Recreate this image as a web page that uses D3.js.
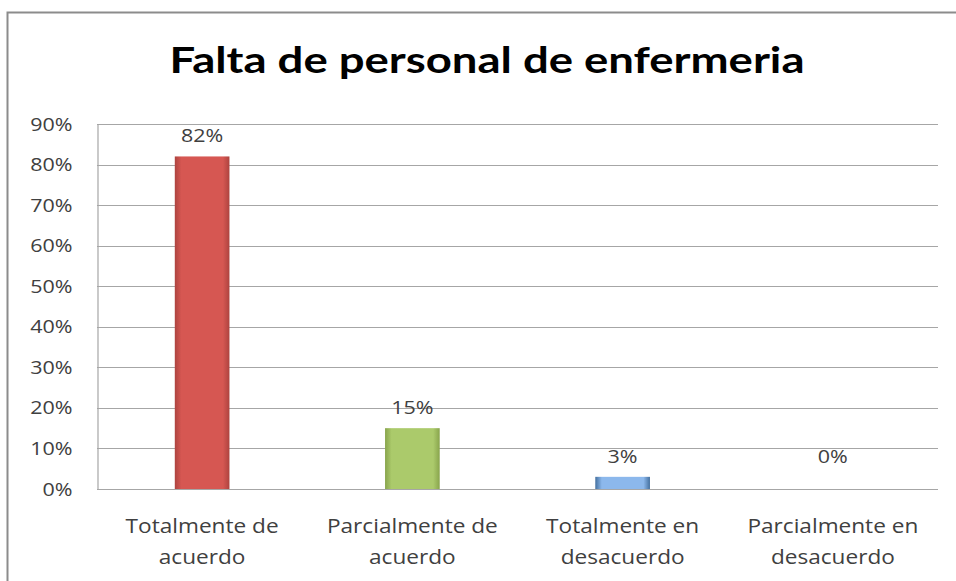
<!DOCTYPE html>
<html>
<head>
<meta charset="utf-8">
<script src="https://cdn.jsdelivr.net/npm/d3@7"></script>
<style>
  body { margin: 0; background: #fff; }
  svg { display: block; }
</style>
</head>
<body>
<script>
// datos
var categorias = [["Totalmente de", "acuerdo"], ["Parcialmente de", "acuerdo"], ["Totalmente en", "desacuerdo"], ["Parcialmente en", "desacuerdo"]];
var valores = [0.82, 0.15, 0.03, 0.00];
var ticks = [0, 0.1, 0.2, 0.3, 0.4, 0.5, 0.6, 0.7, 0.8, 0.9];
var titulo = "Falta de personal de enfermeria";

// colores de cada barra: [borde, centro]
var colores = [["#ad433f", "#d65752"], ["#88a44c", "#abca6b"], ["#44709f", "#8cb8ec"]];

var width = 956, height = 581;
var margin = {top: 124, right: 18, bottom: 92, left: 97};
var stretch = 1.13; // el texto del original sale algo ensanchado

var svg = d3.select("body").append("svg")
  .attr("width", width)
  .attr("height", height)
  .attr("font-family", "'Open Sans', sans-serif");

////// gradientes //////
var defs = svg.append("defs");
colores.forEach(function(c, i) {
  var g = defs.append("linearGradient").attr("id", "grad" + i)
    .attr("x1", "0%").attr("x2", "100%").attr("y1", "0%").attr("y2", "0%");
  g.append("stop").attr("offset", "0%").attr("stop-color", c[0]);
  g.append("stop").attr("offset", "12%").attr("stop-color", c[1]);
  g.append("stop").attr("offset", "88%").attr("stop-color", c[1]);
  g.append("stop").attr("offset", "100%").attr("stop-color", c[0]);
});

// marco del grafico
svg.append("rect")
  .attr("x", 7.5).attr("y", 12.5)
  .attr("width", width + 20).attr("height", height + 20)
  .attr("fill", "#fff")
  .attr("stroke", "#8c8c8c")
  .attr("stroke-width", 2);

////// escalas //////
var x = d3.scaleBand()
  .domain(d3.range(categorias.length))
  .range([margin.left, width - margin.right])
  .padding(0);

var y = d3.scaleLinear()
  .domain([0, 0.9])
  .range([height - margin.bottom, margin.top]);

var formatPct = d3.format(".0%");

// lineas de division
svg.append("g")
  .selectAll("line")
  .data(ticks)
  .join("line")
    .attr("x1", margin.left)
    .attr("x2", width - margin.right)
    .attr("y1", d => Math.round(y(d)) + 0.5)
    .attr("y2", d => Math.round(y(d)) + 0.5)
    .attr("stroke", "#a6a6a6")
    .attr("stroke-width", 1.2);

// eje vertical
var yAxis = svg.append("g")
  .attr("transform", "translate(" + (margin.left + 0.5) + ",0)")
  .call(d3.axisLeft(y).tickValues(ticks).tickFormat(formatPct).tickSize(0).tickPadding(25));
yAxis.select(".domain").attr("stroke", "#a6a6a6").attr("stroke-width", 1.2);
yAxis.selectAll("text")
  .attr("font-size", 19)
  .attr("fill", "#404040")
  .attr("font-family", "'Open Sans', sans-serif");

////// barras //////
var barW = x.bandwidth() * 0.26;

svg.append("g")
  .selectAll("rect")
  .data(valores)
  .join("rect")
    .attr("x", (d, i) => x(i) + x.bandwidth() / 2 - barW / 2)
    .attr("y", d => y(d))
    .attr("width", barW)
    .attr("height", d => y(0) - y(d))
    .attr("fill", (d, i) => "url(#grad" + (i % colores.length) + ")");

// etiquetas de valor
svg.append("g")
  .attr("text-anchor", "middle")
  .selectAll("text")
  .data(valores)
  .join("text")
    .attr("x", (d, i) => x(i) + x.bandwidth() / 2)
    .attr("y", d => Math.min(y(d), y(0) - 12) - 14)
    .attr("font-size", 19)
    .attr("fill", "#404040")
    .text(d => formatPct(d));

// etiquetas de categoria (dos lineas)
var cat = svg.append("g")
  .attr("text-anchor", "middle")
  .selectAll("text")
  .data(categorias)
  .join("text")
    .attr("font-size", 20)
    .attr("fill", "#404040");

cat.selectAll("tspan")
  .data((d, i) => d.map(t => ({t: t, i: i})))
  .join("tspan")
    .attr("x", d => x(d.i) + x.bandwidth() / 2)
    .attr("y", (d, j) => y(0) + 44 + j * 31)
    .text(d => d.t);

// titulo
svg.append("text")
  .attr("x", 487)
  .attr("y", 73)
  .attr("text-anchor", "middle")
  .attr("font-family", "Lato, 'Open Sans', sans-serif")
  .attr("font-size", 36)
  .attr("font-weight", "bold")
  .attr("fill", "#000")
  .attr("textLength", 635)
  .attr("lengthAdjust", "spacingAndGlyphs")
  .text(titulo);

// ensanchar un poco los textos pequeños, como en el original
svg.selectAll("g text:not(:has(tspan)), g tspan").each(function() {
  var w = this.getComputedTextLength();
  if (w > 0) {
    d3.select(this)
      .attr("textLength", w * stretch)
      .attr("lengthAdjust", "spacingAndGlyphs");
  }
});
</script>
</body>
</html>
